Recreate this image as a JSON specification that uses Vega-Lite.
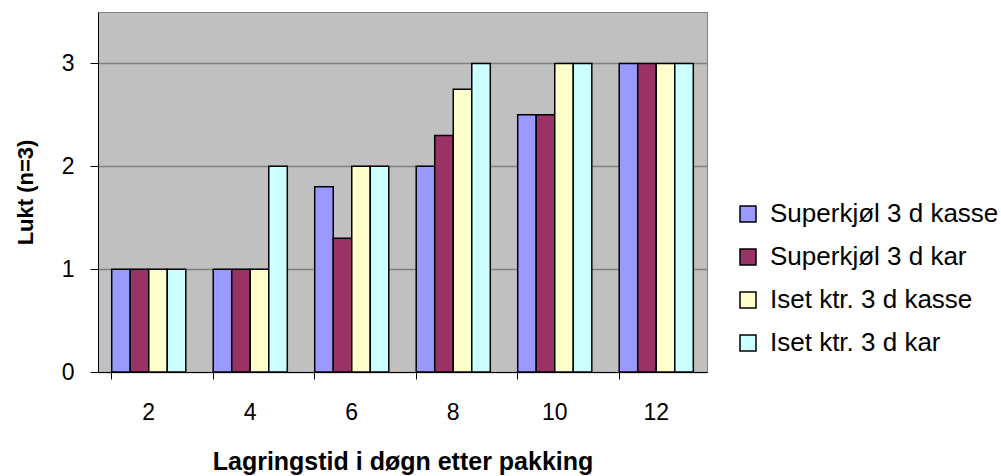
{
  "$schema": "https://vega.github.io/schema/vega-lite/v6.json",
  "autosize": {"type": "none"},
  "padding": {"left": 98, "top": 12, "right": 294, "bottom": 104},
  "width": 609,
  "height": 360,
  "background": "white",
  "config": {
    "font": "Liberation Sans",
    "view": {"fill": "#C0C0C0", "stroke": "#808080", "strokeWidth": 1}
  },
  "data": {
    "values": [
      {"dag": "2", "serie": "Superkjøl 3 d kasse", "lukt": 1},
      {"dag": "2", "serie": "Superkjøl 3 d kar", "lukt": 1},
      {"dag": "2", "serie": "Iset ktr. 3 d kasse", "lukt": 1},
      {"dag": "2", "serie": "Iset ktr. 3 d kar", "lukt": 1},
      {"dag": "4", "serie": "Superkjøl 3 d kasse", "lukt": 1},
      {"dag": "4", "serie": "Superkjøl 3 d kar", "lukt": 1},
      {"dag": "4", "serie": "Iset ktr. 3 d kasse", "lukt": 1},
      {"dag": "4", "serie": "Iset ktr. 3 d kar", "lukt": 2},
      {"dag": "6", "serie": "Superkjøl 3 d kasse", "lukt": 1.8},
      {"dag": "6", "serie": "Superkjøl 3 d kar", "lukt": 1.3},
      {"dag": "6", "serie": "Iset ktr. 3 d kasse", "lukt": 2},
      {"dag": "6", "serie": "Iset ktr. 3 d kar", "lukt": 2},
      {"dag": "8", "serie": "Superkjøl 3 d kasse", "lukt": 2},
      {"dag": "8", "serie": "Superkjøl 3 d kar", "lukt": 2.3},
      {"dag": "8", "serie": "Iset ktr. 3 d kasse", "lukt": 2.75},
      {"dag": "8", "serie": "Iset ktr. 3 d kar", "lukt": 3},
      {"dag": "10", "serie": "Superkjøl 3 d kasse", "lukt": 2.5},
      {"dag": "10", "serie": "Superkjøl 3 d kar", "lukt": 2.5},
      {"dag": "10", "serie": "Iset ktr. 3 d kasse", "lukt": 3},
      {"dag": "10", "serie": "Iset ktr. 3 d kar", "lukt": 3},
      {"dag": "12", "serie": "Superkjøl 3 d kasse", "lukt": 3},
      {"dag": "12", "serie": "Superkjøl 3 d kar", "lukt": 3},
      {"dag": "12", "serie": "Iset ktr. 3 d kasse", "lukt": 3},
      {"dag": "12", "serie": "Iset ktr. 3 d kar", "lukt": 3}
    ]
  },
  "mark": {"type": "bar", "stroke": "black", "strokeWidth": 1.5},
  "encoding": {
    "x": {
      "field": "dag",
      "type": "nominal",
      "sort": ["2", "4", "6", "8", "10", "12"],
      "scale": {"paddingInner": 0.27, "paddingOuter": 0.135},
      "axis": {
        "title": "Lagringstid i døgn etter pakking",
        "titleFontSize": 25,
        "titleFontWeight": "bold",
        "titleColor": "black",
        "titlePadding": 25,
        "labelAngle": 0,
        "labelFontSize": 23,
        "labelColor": "black",
        "labelPadding": 22,
        "bandPosition": 0,
        "tickSize": 7,
        "tickColor": "black",
        "domainColor": "black",
        "grid": false
      }
    },
    "xOffset": {
      "field": "serie",
      "type": "nominal",
      "sort": ["Superkjøl 3 d kasse", "Superkjøl 3 d kar", "Iset ktr. 3 d kasse", "Iset ktr. 3 d kar"],
      "scale": {"paddingInner": 0, "paddingOuter": 0}
    },
    "y": {
      "field": "lukt",
      "type": "quantitative",
      "scale": {"domain": [0, 3.5], "nice": false},
      "axis": {
        "title": "Lukt (n=3)",
        "titleFontSize": 22,
        "titleFontWeight": "bold",
        "titleColor": "black",
        "titlePadding": 24,
        "values": [0, 1, 2, 3],
        "labelFontSize": 23,
        "labelColor": "black",
        "labelPadding": 16,
        "tickSize": 8,
        "tickColor": "black",
        "domainColor": "black",
        "gridColor": "#808080",
        "gridWidth": 1.5
      }
    },
    "fill": {
      "field": "serie",
      "type": "nominal",
      "sort": ["Superkjøl 3 d kasse", "Superkjøl 3 d kar", "Iset ktr. 3 d kasse", "Iset ktr. 3 d kar"],
      "scale": {
        "domain": ["Superkjøl 3 d kasse", "Superkjøl 3 d kar", "Iset ktr. 3 d kasse", "Iset ktr. 3 d kar"],
        "range": ["#9999FF", "#993366", "#FFFFCC", "#CCFFFF"]
      },
      "legend": {
        "title": null,
        "orient": "none",
        "legendX": 637,
        "legendY": 189,
        "symbolType": "square",
        "symbolSize": 256,
        "symbolStrokeColor": "black",
        "symbolStrokeWidth": 1.5,
        "labelFontSize": 26,
        "labelColor": "black",
        "labelOffset": 9,
        "labelLimit": 300,
        "rowPadding": 17
      }
    }
  }
}
